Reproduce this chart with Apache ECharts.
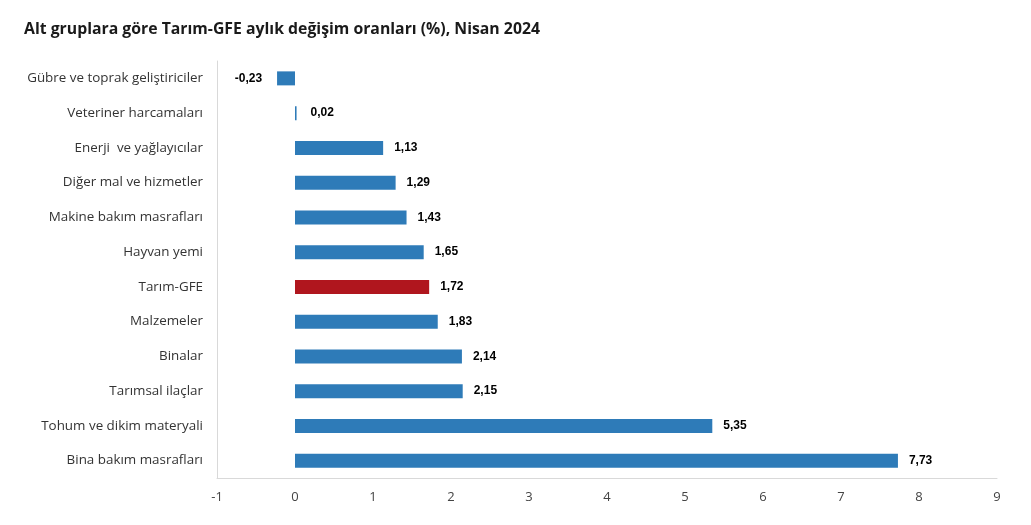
<!DOCTYPE html>
<html><head><meta charset="utf-8">
<script src="https://cdn.jsdelivr.net/npm/echarts@6/dist/echarts.min.js"></script>
<style>html,body{margin:0;padding:0;background:#fff}#c{width:1031px;height:525px}</style>
</head><body><div id="c"></div>
<script>
const categories = ["Gübre ve toprak geliştiriciler","Veteriner harcamaları","Enerji  ve yağlayıcılar","Diğer mal ve hizmetler","Makine bakım masrafları","Hayvan yemi","Tarım-GFE","Malzemeler","Binalar","Tarımsal ilaçlar","Tohum ve dikim materyali","Bina bakım masrafları"];
const values = [-0.23,0.02,1.13,1.29,1.43,1.65,1.72,1.83,2.14,2.15,5.35,7.73];
const highlight = "Tarım-GFE";
const blue = "#2E7BB8", red = "#B0161E";
const chart = echarts.init(document.getElementById('c'));
const cats = categories.slice().reverse();
const vals = values.slice().reverse();
chart.setOption({
  animation:false,
  title:{text:"Alt gruplara göre Tarım-GFE aylık değişim oranları (%), Nisan 2024",left:19,top:16,textStyle:{fontFamily:"Open Sans",fontSize:15.8,fontWeight:"bold",color:"#1a1a1a"}},
  grid:{left:217,right:34,top:61,bottom:47},
  xAxis:{type:'value',min:-1,max:9,interval:1,splitLine:{show:false},
    axisLine:{show:true,lineStyle:{color:'#d9d9d9'}},axisTick:{show:false},
    axisLabel:{fontFamily:"Open Sans",fontSize:13,color:'#444',margin:13}},
  yAxis:{type:'category',data:cats,axisTick:{show:false},
    axisLine:{onZero:false,lineStyle:{color:'#d9d9d9'}},
    axisLabel:{fontFamily:"Open Sans",fontSize:13.4,color:'#333',margin:14}},
  series:[{type:'bar',barWidth:14,
    data:vals.map((v,i)=>({value:v,itemStyle:{color:cats[i]===highlight?red:blue},
      label:{show:true,position:v<0?'left':'right',distance:v<0?15:(Math.abs(v)<0.1?14:11),
        formatter:()=>v.toFixed(2).replace('.',','),
        fontFamily:"Liberation Sans",fontWeight:'bold',fontSize:12,color:'#000'}}))}]
});
</script></body></html>
